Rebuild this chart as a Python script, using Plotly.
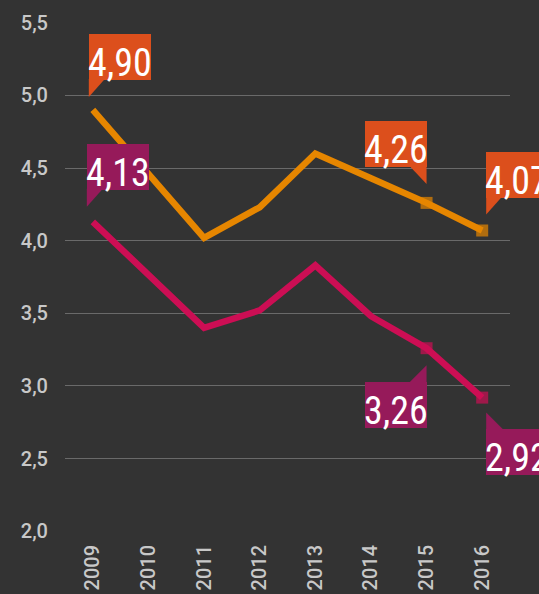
import plotly.graph_objects as go

years = ["2009", "2010", "2011", "2012", "2013", "2014", "2015", "2016"]
orange_vals = [4.90, 4.46, 4.02, 4.23, 4.60, 4.43, 4.26, 4.07]
pink_vals = [4.13, 3.77, 3.40, 3.52, 3.83, 3.48, 3.26, 2.92]
y_ticks = [2.0, 2.5, 3.0, 3.5, 4.0, 4.5, 5.0, 5.5]
y_ticklabels = ["2,0", "2,5", "3,0", "3,5", "4,0", "4,5", "5,0", "5,5"]

BG = "#333333"
ORANGE_LINE = "#e68600"
PINK_LINE = "#cc0e54"
ORANGE_BOX = "#dc4f1c"
PINK_BOX = "#961a5a"
GRID = "#6a6a6a"
TICK = "#c8c8c8"
LABEL_FONT = "Roboto, sans-serif"

def fmt(v):
    return f"{v:.2f}".replace(".", ",")

fig = go.Figure()
marker_sizes = [0, 0, 0, 0, 0, 0, 12, 12]
fig.add_trace(go.Scatter(x=years, y=orange_vals, mode="lines+markers",
                         line=dict(color=ORANGE_LINE, width=6.5),
                         marker=dict(symbol="square", size=marker_sizes, color=ORANGE_LINE,
                                     line=dict(width=0)),
                         hoverinfo="skip"))
fig.add_trace(go.Scatter(x=years, y=pink_vals, mode="lines+markers",
                         line=dict(color=PINK_LINE, width=6.5),
                         marker=dict(symbol="square", size=marker_sizes, color=PINK_LINE,
                                     line=dict(width=0)),
                         hoverinfo="skip"))

W, H = 62, 46
callouts = [
    (orange_vals, 0, ORANGE_BOX, -4, 30, "bl_down"),
    (pink_vals, 0, PINK_BOX, -6, 32, "bl_down"),
    (orange_vals, 6, ORANGE_BOX, -62, 36, "br_down"),
    (orange_vals, 7, ORANGE_BOX, 4, 33, "bl_down"),
    (pink_vals, 6, PINK_BOX, -62, -80, "tr_up"),
    (pink_vals, 7, PINK_BOX, 4, -77, "tl_up"),
]

shapes = []
annotations = []
for vals, idx, color, bx, by, tail in callouts:
    v = vals[idx]
    if tail == "bl_down":
        path = f"M {bx},{by+1} L {bx},{by-17} L {bx+16},{by+1} Z"
    elif tail == "br_down":
        path = f"M {bx+W},{by+1} L {bx+W},{by-17} L {bx+W-17},{by+1} Z"
    elif tail == "tr_up":
        path = f"M {bx+W},{by+H-1} L {bx+W},{by+H+17} L {bx+W-18},{by+H-1} Z"
    else:
        path = f"M {bx},{by+H-1} L {bx},{by+H+16} L {bx+17},{by+H-1} Z"
    shapes.append(dict(type="path", xref="x", yref="y", xsizemode="pixel", ysizemode="pixel",
                       xanchor=idx, yanchor=v, path=path, fillcolor=color,
                       line=dict(width=0), layer="above"))
    annotations.append(dict(x=idx, y=v, xref="x", yref="y", text=" ", showarrow=False,
                            xanchor="left", yanchor="bottom", xshift=bx, yshift=by,
                            width=W, height=H, bgcolor=color, borderpad=0, borderwidth=0))
    annotations.append(dict(x=idx, y=v, xref="x", yref="y", text=fmt(v), showarrow=False,
                            xanchor="center", yanchor="bottom", xshift=bx + W / 2,
                            yshift=by - 5, borderpad=0, borderwidth=0,
                            font=dict(family=LABEL_FONT, size=38, color="white")))

fig.update_layout(
    width=539, height=594,
    paper_bgcolor=BG, plot_bgcolor=BG,
    margin=dict(l=65, r=29, t=22, b=62),
    showlegend=False,
    shapes=shapes,
    annotations=annotations,
    xaxis=dict(type="category", range=[-0.5, 7.5], showgrid=False, zeroline=False,
               showline=False, ticks="", tickangle=-90, ticklabelstandoff=8, automargin=False,
               tickfont=dict(family="Roboto, sans-serif", size=20, color=TICK, weight=500)),
    yaxis=dict(range=[1.995, 5.505], tickvals=y_ticks, ticktext=y_ticklabels,
               showgrid=True, gridcolor=GRID, gridwidth=1, zeroline=False, automargin=False,
               showline=False, ticks="", ticklabelstandoff=16,
               tickfont=dict(family="Roboto, sans-serif", size=20, color=TICK, weight=500)),
)

post = """
document.body.style.margin='0';
document.body.style.background='#333333';
var st=document.createElement('style');
st.textContent='.annotation-text{font-stretch:condensed !important;}';
document.head.appendChild(st);
"""
fig.write_html("out.html", post_script=post, config={"displayModeBar": False})
